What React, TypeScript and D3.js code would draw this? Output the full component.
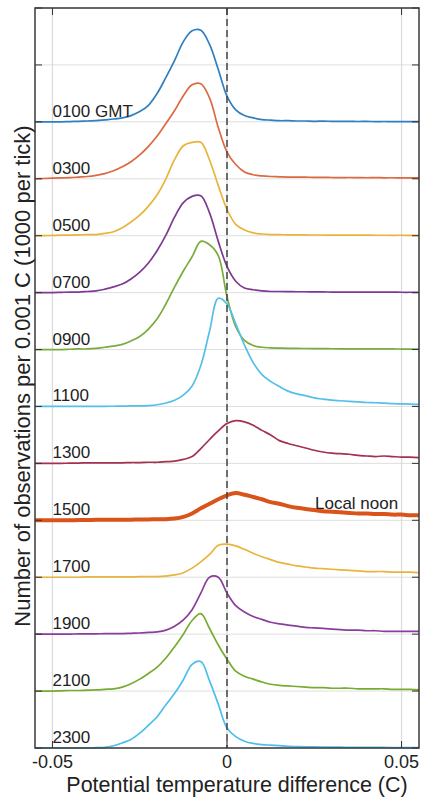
import React from 'react';
import * as d3 from 'd3';

// sampling grid of the histograms (C)
const xs = [
  -0.055, -0.0525, -0.05, -0.0475, -0.045, -0.0425, -0.04, -0.0375, -0.035, -0.0325,
  -0.03, -0.0275, -0.025, -0.0225, -0.02, -0.0175, -0.015, -0.0125, -0.01, -0.0075,
  -0.005, -0.0025, 0, 0.0025, 0.005, 0.0075, 0.01, 0.0125, 0.015, 0.0175,
  0.02, 0.0225, 0.025, 0.0275, 0.03, 0.0325, 0.035, 0.0375, 0.04, 0.0425,
  0.045, 0.0475, 0.05, 0.0525, 0.055,
];

// observations per 0.001 C, in thousands
const h0100 = [0, 0, 0, 0, 0.005, 0.01, 0.015, 0.02, 0.035, 0.05, 0.07, 0.11, 0.18, 0.29, 0.5, 0.78, 1.08, 1.41, 1.6, 1.61, 1.36, 0.92, 0.45, 0.21, 0.11, 0.07, 0.04, 0.03, 0.02, 0.02, 0.015, 0.015, 0.01, 0.012, 0.01, 0.008, 0.01, 0.006, 0.008, 0.005, 0.006, 0.004, 0.005, 0.003, 0.004];
const h0300 = [0, 0.005, 0.01, 0.015, 0.02, 0.03, 0.04, 0.06, 0.09, 0.14, 0.21, 0.3, 0.42, 0.57, 0.75, 0.97, 1.2, 1.46, 1.65, 1.67, 1.42, 0.9, 0.47, 0.25, 0.12, 0.07, 0.05, 0.04, 0.035, 0.03, 0.03, 0.028, 0.025, 0.025, 0.022, 0.02, 0.022, 0.02, 0.018, 0.02, 0.017, 0.018, 0.016, 0.017, 0.015];
const h0500 = [0, 0, 0.005, 0.01, 0.01, 0.015, 0.02, 0.02, 0.04, 0.07, 0.14, 0.24, 0.36, 0.52, 0.72, 1.0, 1.34, 1.58, 1.64, 1.64, 1.33, 0.88, 0.46, 0.2, 0.1, 0.05, 0.03, 0.02, 0.018, 0.015, 0.015, 0.013, 0.012, 0.012, 0.01, 0.01, 0.01, 0.009, 0.01, 0.008, 0.008, 0.007, 0.008, 0.006, 0.006];
const h0700 = [0, 0, 0, 0.005, 0.01, 0.01, 0.02, 0.03, 0.06, 0.1, 0.15, 0.24, 0.36, 0.52, 0.74, 1.01, 1.33, 1.58, 1.69, 1.7, 1.4, 0.9, 0.46, 0.2, 0.08, 0.05, 0.03, 0.02, 0.02, 0.018, 0.015, 0.015, 0.012, 0.012, 0.01, 0.01, 0.01, 0.008, 0.009, 0.008, 0.007, 0.008, 0.006, 0.006, 0.005];
const h0900 = [0, 0, 0, 0, 0.005, 0.01, 0.01, 0.02, 0.04, 0.06, 0.09, 0.15, 0.23, 0.36, 0.54, 0.8, 1.1, 1.38, 1.63, 1.9, 1.84, 1.65, 0.93, 0.4, 0.16, 0.07, 0.04, 0.03, 0.025, 0.02, 0.02, 0.018, 0.016, 0.015, 0.014, 0.013, 0.012, 0.012, 0.011, 0.01, 0.01, 0.01, 0.009, 0.009, 0.008];
const h1100 = [0, 0, 0, 0, 0, 0, 0, 0.002, 0.003, 0.004, 0.005, 0.01, 0.01, 0.015, 0.03, 0.06, 0.11, 0.2, 0.36, 0.72, 1.32, 1.9, 1.8, 1.45, 1.08, 0.77, 0.56, 0.44, 0.35, 0.27, 0.22, 0.19, 0.15, 0.13, 0.11, 0.1, 0.09, 0.08, 0.07, 0.065, 0.06, 0.05, 0.045, 0.04, 0.035];
const h1300 = [0, 0, 0, 0, 0.005, 0.005, 0.01, 0.01, 0.01, 0.01, 0.01, 0.015, 0.015, 0.02, 0.02, 0.03, 0.04, 0.07, 0.12, 0.26, 0.42, 0.57, 0.7, 0.75, 0.73, 0.67, 0.58, 0.5, 0.4, 0.35, 0.31, 0.27, 0.23, 0.2, 0.18, 0.17, 0.16, 0.14, 0.13, 0.12, 0.13, 0.12, 0.11, 0.11, 0.1];
const h1500 = [0, 0, 0, 0, 0, 0.005, 0.005, 0.01, 0.01, 0.01, 0.01, 0.01, 0.015, 0.015, 0.02, 0.02, 0.03, 0.06, 0.12, 0.21, 0.29, 0.37, 0.44, 0.48, 0.45, 0.41, 0.37, 0.32, 0.29, 0.25, 0.22, 0.2, 0.18, 0.16, 0.15, 0.14, 0.13, 0.12, 0.12, 0.11, 0.11, 0.1, 0.1, 0.09, 0.09];
const h1700 = [0, 0, 0, 0, 0, 0, 0.005, 0.005, 0.005, 0.005, 0.005, 0.005, 0.01, 0.01, 0.01, 0.02, 0.04, 0.08, 0.16, 0.27, 0.4, 0.56, 0.58, 0.55, 0.49, 0.42, 0.36, 0.31, 0.26, 0.23, 0.2, 0.18, 0.16, 0.15, 0.14, 0.13, 0.12, 0.11, 0.1, 0.1, 0.1, 0.09, 0.09, 0.09, 0.08];
const h1900 = [0, 0, 0, 0, 0, 0.005, 0.005, 0.005, 0.01, 0.01, 0.01, 0.015, 0.02, 0.03, 0.04, 0.07, 0.14, 0.25, 0.43, 0.72, 1.0, 1.0, 0.72, 0.5, 0.39, 0.31, 0.26, 0.21, 0.18, 0.16, 0.14, 0.12, 0.11, 0.1, 0.09, 0.08, 0.07, 0.07, 0.06, 0.06, 0.05, 0.05, 0.05, 0.05, 0.05];
const h2100 = [0, 0, 0, 0.005, 0.01, 0.01, 0.015, 0.02, 0.03, 0.04, 0.07, 0.13, 0.21, 0.31, 0.42, 0.58, 0.78, 1.0, 1.24, 1.36, 1.1, 0.81, 0.56, 0.35, 0.26, 0.21, 0.16, 0.12, 0.1, 0.09, 0.08, 0.07, 0.06, 0.06, 0.05, 0.05, 0.05, 0.04, 0.04, 0.04, 0.04, 0.03, 0.03, 0.03, 0.02];
const h2300 = [0, 0, 0, 0, 0, 0, 0, 0.005, 0.01, 0.04, 0.09, 0.15, 0.26, 0.4, 0.55, 0.76, 0.96, 1.2, 1.47, 1.52, 1.18, 0.77, 0.35, 0.2, 0.12, 0.08, 0.06, 0.05, 0.04, 0.03, 0.025, 0.02, 0.02, 0.018, 0.015, 0.015, 0.012, 0.012, 0.01, 0.01, 0.01, 0.008, 0.008, 0.007, 0.006];

const hours = ['0100 GMT', '0300', '0500', '0700', '0900', '1100', '1300', '1500', '1700', '1900', '2100', '2300'];
const offsets = [11, 10, 9, 8, 7, 6, 5, 4, 3, 2, 1, 0];
const values = [h0100, h0300, h0500, h0700, h0900, h1100, h1300, h1500, h1700, h1900, h2100, h2300];
const colors = ['#2f7fc1', '#db6a43', '#e8b43c', '#7e3a93', '#7aab3e', '#55bfe8', '#a3324f', '#d9531a', '#e8b43c', '#8a3d9b', '#77ac30', '#4dbeee'];

const xTicks = [-0.05, 0, 0.05];
const xTickLabels = ['-0.05', '0', '0.05'];

const W = 423;
const H = 797;
const FONT = '"Liberation Sans", Arial, Helvetica, sans-serif';

export default function App() {
  const left = 35, right = 419, top = 8, bottom = 748;
  const x = d3.scaleLinear().domain([-0.055, 0.055]).range([left, right]);
  const y = d3.scaleLinear().domain([0, 13]).range([bottom, top]);
  const yTicks = y.ticks(13);

  const line = (vals: number[], off: number) =>
    d3.line<number>()
      .x((_, i) => x(xs[i]))
      .y(v => y(off + v))
      .curve(d3.curveCatmullRom.alpha(0.5))(vals) || '';

  const tick = 7;

  return (
    <svg width={W} height={H} style={{ position: 'absolute', left: 0, top: 0, background: '#fff' }}
      fontFamily={FONT}>
      <rect x={0} y={0} width={W} height={H} fill="#fff" />

      {/* grid */}
      {yTicks.map(t => (
        <line key={'gy' + t} x1={left} x2={right} y1={y(t)} y2={y(t)} stroke="#dedede" strokeWidth={1} />
      ))}
      {xTicks.map(t => (
        <line key={'gx' + t} x1={x(t)} x2={x(t)} y1={top} y2={bottom} stroke="#dcdcdc" strokeWidth={1.3} />
      ))}

      {/* series */}
      {values.map((vals, k) => (
        <path key={hours[k]} d={line(vals, offsets[k])} fill="none" stroke={colors[k]}
          strokeWidth={hours[k] === '1500' ? 4 : 1.7} strokeLinejoin="round" />
      ))}

      {/* zero line */}
      <line x1={x(0)} x2={x(0)} y1={top} y2={bottom} stroke="#444" strokeWidth={1.5} strokeDasharray="7,4" />

      {/* series labels */}
      {hours.map((h, k) => (
        <text key={'l' + h} x={x(-0.05)} y={y(offsets[k]) - 5} fontSize={17} fill="#222">{h}</text>
      ))}
      <text x={315} y={509} fontSize={17} fill="#222">Local noon</text>

      {/* ticks */}
      {yTicks.map(t => (
        <g key={'ty' + t}>
          <line x1={left} x2={left + tick} y1={y(t)} y2={y(t)} stroke="#333" strokeWidth={1} />
          <line x1={right} x2={right - tick} y1={y(t)} y2={y(t)} stroke="#333" strokeWidth={1} />
        </g>
      ))}
      {xTicks.map(t => (
        <g key={'tx' + t}>
          <line x1={x(t)} x2={x(t)} y1={bottom} y2={bottom - tick} stroke="#333" strokeWidth={1} />
          <line x1={x(t)} x2={x(t)} y1={top} y2={top + tick} stroke="#333" strokeWidth={1} />
        </g>
      ))}

      {/* frame */}
      <rect x={left} y={top} width={right - left} height={bottom - top} fill="none" stroke="#3a3a3a" strokeWidth={1.5} />

      {/* tick labels */}
      {xTicks.map((t, i) => (
        <text key={'xl' + t} x={x(t)} y={768} fontSize={18} textAnchor="middle" fill="#222">{xTickLabels[i]}</text>
      ))}

      {/* axis titles */}
      <text x={(left + right) / 2 + 10} y={792} fontSize={21.5} textAnchor="middle" fill="#222">
        Potential temperature difference (C)
      </text>
      <text transform={`translate(30, ${376}) rotate(-90)`} fontSize={22} textAnchor="middle" fill="#222">
        Number of observations per 0.001 C (1000 per tick)
      </text>
    </svg>
  );
}
